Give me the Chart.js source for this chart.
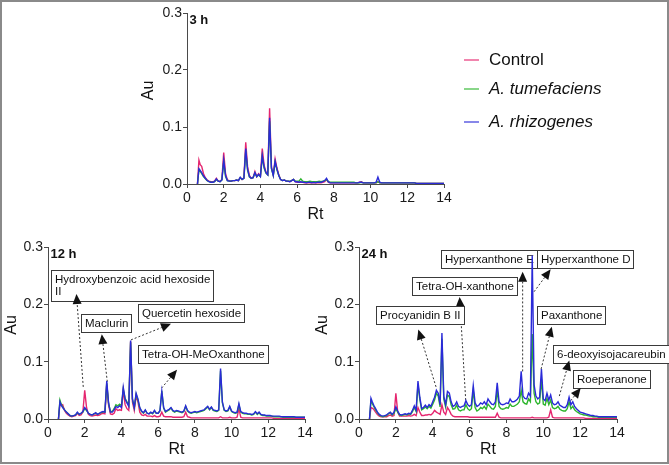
<!DOCTYPE html>
<html>
<head>
<meta charset="utf-8">
<script src="https://cdn.jsdelivr.net/npm/chart.js@4.4.1/dist/chart.umd.min.js"></script>
<style>
  html, body { margin: 0; padding: 0; background: #fff; overflow: hidden; }
  #frame { position: absolute; left: 0; top: 0; width: 665px; height: 460px; border: 2px solid #8a8a8a; }
  canvas { position: absolute; left: 0; top: 0; }
</style>
</head>
<body>
<div id="frame"></div>
<canvas id="c3" width="669" height="465"></canvas>
<canvas id="c12" width="669" height="465"></canvas>
<canvas id="c24" width="669" height="465"></canvas>
<script>
// retention time grid (min)
const rt = [
  0.57, 0.65, 0.72, 0.8, 0.9,
  1.0, 1.1, 1.2, 1.3, 1.4, 1.5, 1.6, 1.7, 1.8, 1.9,
  2.0, 2.1, 2.2, 2.3, 2.4, 2.5, 2.6, 2.7, 2.8, 2.9,
  3.0, 3.1, 3.2, 3.3, 3.4, 3.5, 3.6, 3.7, 3.8, 3.9,
  4.0, 4.1, 4.2, 4.3, 4.4, 4.5, 4.6, 4.7, 4.8, 4.9,
  5.0, 5.1, 5.2, 5.3, 5.4, 5.5, 5.6, 5.7, 5.8, 5.9,
  6.0, 6.1, 6.2, 6.3, 6.4, 6.5, 6.6, 6.7, 6.8, 6.9,
  7.0, 7.1, 7.2, 7.3, 7.4, 7.5, 7.6, 7.7, 7.8, 7.9,
  8.0, 8.1, 8.2, 8.3, 8.4, 8.5, 8.6, 8.7, 8.8, 8.9,
  9.0, 9.1, 9.2, 9.3, 9.4, 9.5, 9.6, 9.7, 9.8, 9.9,
  10.0, 10.1, 10.2, 10.3, 10.4, 10.5, 10.6, 10.7, 10.8, 10.9,
  11.0, 11.1, 11.2, 11.3, 11.4, 11.5, 11.6, 11.7, 11.8, 11.9,
  12.0, 12.1, 12.2, 12.3, 12.4, 12.5, 12.6, 12.7, 12.8, 12.9,
  13.0, 13.1, 13.2, 13.3, 13.4, 13.5, 13.6, 13.7, 13.8, 13.9,
  14.0
];

const seriesNames = ["Control", "A. tumefaciens", "A. rhizogenes"];
const yTicks = [0, 0.1, 0.2, 0.3];
const xTicks = [0, 2, 4, 6, 8, 10, 12, 14];

// ---- 3 h ----
const control3 = [
  0, 0.042, 0.034, 0.031, 0.018,
  0.011, 0.007, 0.005, 0.004, 0.004, 0.005, 0.010, 0.005, 0.005, 0.008,
  0.055, 0.018, 0.007, 0.006, 0.005, 0.006, 0.006, 0.007, 0.006, 0.011,
  0.008, 0.011, 0.073, 0.030, 0.015, 0.010, 0.011, 0.022, 0.013, 0.018,
  0.014, 0.062, 0.033, 0.021, 0.017, 0.133, 0.030, 0.016, 0.044, 0.028,
  0.016, 0.008, 0.006, 0.007, 0.005, 0.005, 0.004, 0.006, 0.008, 0.004,
  0.003, 0.003, 0.003, 0.003, 0.002, 0.002, 0.002, 0.002, 0.002, 0.002,
  0.002, 0.002, 0.002, 0.002, 0.003, 0.004, 0.008, 0.003, 0.002, 0.002,
  0.002, 0.002, 0.002, 0.002, 0.002, 0.002, 0.002, 0.002, 0.002, 0.002,
  0.002, 0.002, 0.002, 0.002, 0.003, 0.004, 0.002, 0.002, 0.002, 0.002,
  0.002, 0.002, 0.002, 0.002, 0.004, 0.002, 0.002, 0.002, 0.002, 0.002,
  0.002, 0.002, 0.002, 0.002, 0.002, 0.002, 0.002, 0.002, 0.002, 0.002,
  0.002, 0.002, 0.002, 0.002, 0.002, 0.001, 0.001, 0.001, 0.001, 0.001,
  0.001, 0.001, 0.001, 0.001, 0.001, 0.001, 0.001, 0.001, 0.001, 0.001,
  0.001
];
const tume3 = [
  0, 0.025, 0.022, 0.018, 0.013,
  0.009, 0.006, 0.004, 0.003, 0.003, 0.004, 0.008, 0.005, 0.004, 0.007,
  0.038, 0.013, 0.006, 0.005, 0.005, 0.006, 0.006, 0.007, 0.006, 0.011,
  0.008, 0.010, 0.058, 0.024, 0.012, 0.010, 0.011, 0.019, 0.013, 0.016,
  0.013, 0.047, 0.028, 0.019, 0.016, 0.110, 0.027, 0.015, 0.038, 0.025,
  0.015, 0.008, 0.006, 0.007, 0.005, 0.005, 0.005, 0.006, 0.008, 0.005,
  0.005, 0.005, 0.009, 0.005, 0.004, 0.004, 0.004, 0.005, 0.004, 0.004,
  0.004, 0.004, 0.005, 0.004, 0.005, 0.006, 0.008, 0.004, 0.003, 0.003,
  0.003, 0.003, 0.003, 0.003, 0.003, 0.003, 0.003, 0.003, 0.003, 0.003,
  0.003, 0.003, 0.002, 0.002, 0.002, 0.003, 0.002, 0.002, 0.002, 0.002,
  0.002, 0.002, 0.002, 0.002, 0.004, 0.002, 0.002, 0.002, 0.002, 0.002,
  0.002, 0.002, 0.002, 0.002, 0.002, 0.002, 0.002, 0.002, 0.002, 0.002,
  0.002, 0.002, 0.002, 0.002, 0.002, 0.001, 0.001, 0.001, 0.001, 0.001,
  0.001, 0.001, 0.001, 0.001, 0.001, 0.001, 0.001, 0.001, 0.001, 0.001,
  0.001
];
const rhizo3 = [
  0, 0.027, 0.024, 0.020, 0.014,
  0.010, 0.006, 0.004, 0.003, 0.003, 0.004, 0.009, 0.005, 0.004, 0.007,
  0.042, 0.015, 0.006, 0.005, 0.005, 0.006, 0.006, 0.007, 0.006, 0.012,
  0.008, 0.010, 0.062, 0.026, 0.013, 0.010, 0.011, 0.020, 0.013, 0.017,
  0.013, 0.050, 0.030, 0.020, 0.016, 0.116, 0.028, 0.015, 0.040, 0.026,
  0.015, 0.008, 0.006, 0.007, 0.005, 0.005, 0.004, 0.006, 0.008, 0.004,
  0.004, 0.003, 0.004, 0.003, 0.003, 0.002, 0.003, 0.003, 0.002, 0.003,
  0.002, 0.003, 0.003, 0.003, 0.004, 0.006, 0.010, 0.004, 0.002, 0.002,
  0.002, 0.002, 0.002, 0.002, 0.002, 0.002, 0.002, 0.002, 0.002, 0.002,
  0.002, 0.002, 0.002, 0.002, 0.003, 0.003, 0.002, 0.002, 0.002, 0.002,
  0.002, 0.002, 0.002, 0.003, 0.012, 0.003, 0.002, 0.002, 0.002, 0.002,
  0.002, 0.002, 0.002, 0.002, 0.002, 0.002, 0.002, 0.002, 0.002, 0.002,
  0.002, 0.002, 0.002, 0.002, 0.002, 0.001, 0.001, 0.001, 0.001, 0.001,
  0.001, 0.001, 0.001, 0.001, 0.001, 0.001, 0.001, 0.001, 0.001, 0.001,
  0.001
];

// ---- 12 h ----
const control12 = [
  0, 0.027, 0.024, 0.025, 0.015,
  0.010, 0.007, 0.005, 0.004, 0.005, 0.006, 0.010, 0.006, 0.007, 0.012,
  0.050, 0.020, 0.008, 0.006, 0.005, 0.006, 0.007, 0.006, 0.007, 0.009,
  0.010, 0.009, 0.060, 0.024, 0.009, 0.008, 0.010, 0.018, 0.015, 0.016,
  0.015, 0.050, 0.025, 0.018, 0.015, 0.135, 0.030, 0.015, 0.040, 0.030,
  0.012, 0.007, 0.006, 0.008, 0.005, 0.005, 0.005, 0.004, 0.006, 0.004,
  0.004, 0.005, 0.012, 0.005, 0.004, 0.004, 0.004, 0.004, 0.003, 0.003,
  0.003, 0.003, 0.003, 0.003, 0.004, 0.012, 0.004, 0.003, 0.002, 0.002,
  0.002, 0.002, 0.002, 0.002, 0.002, 0.002, 0.002, 0.002, 0.002, 0.002,
  0.002, 0.002, 0.002, 0.002, 0.004, 0.002, 0.002, 0.002, 0.002, 0.003,
  0.002, 0.002, 0.002, 0.003, 0.018, 0.003, 0.002, 0.002, 0.002, 0.002,
  0.002, 0.002, 0.002, 0.002, 0.002, 0.002, 0.002, 0.002, 0.002, 0.002,
  0.002, 0.002, 0.002, 0.001, 0.001, 0.001, 0.001, 0.001, 0.001, 0.001,
  0.001, 0.001, 0.001, 0.001, 0.001, 0.001, 0.001, 0.001, 0.001, 0.001,
  0.001
];
const tume12 = [
  0, 0.033, 0.026, 0.021, 0.016,
  0.012, 0.009, 0.006, 0.005, 0.006, 0.007, 0.011, 0.008, 0.010, 0.012,
  0.018, 0.015, 0.010, 0.008, 0.007, 0.009, 0.010, 0.008, 0.010, 0.011,
  0.012, 0.012, 0.063, 0.027, 0.013, 0.013, 0.018, 0.025, 0.023, 0.026,
  0.023, 0.052, 0.036, 0.030, 0.024, 0.134, 0.034, 0.020, 0.043, 0.033,
  0.019, 0.013, 0.010, 0.015, 0.010, 0.009, 0.011, 0.009, 0.014, 0.010,
  0.010, 0.014, 0.049, 0.019, 0.012, 0.014, 0.016, 0.019, 0.014, 0.012,
  0.014, 0.013, 0.012, 0.011, 0.013, 0.022, 0.014, 0.011, 0.010, 0.011,
  0.012, 0.011, 0.012, 0.013, 0.014, 0.015, 0.018, 0.021, 0.016, 0.020,
  0.015, 0.014, 0.013, 0.015, 0.084, 0.028, 0.015, 0.013, 0.014, 0.021,
  0.013, 0.011, 0.010, 0.011, 0.025, 0.012, 0.010, 0.009, 0.009, 0.008,
  0.008, 0.007, 0.008, 0.012, 0.008, 0.011, 0.007, 0.006, 0.006, 0.005,
  0.005, 0.005, 0.005, 0.004, 0.004, 0.004, 0.004, 0.004, 0.003, 0.003,
  0.003, 0.003, 0.003, 0.003, 0.003, 0.003, 0.003, 0.003, 0.003, 0.003,
  0.003
];
const rhizo12 = [
  0, 0.030, 0.024, 0.020, 0.016,
  0.012, 0.009, 0.006, 0.005, 0.006, 0.007, 0.012, 0.008, 0.010, 0.013,
  0.020, 0.016, 0.010, 0.008, 0.007, 0.009, 0.011, 0.008, 0.010, 0.012,
  0.013, 0.012, 0.066, 0.028, 0.012, 0.012, 0.016, 0.022, 0.020, 0.023,
  0.020, 0.055, 0.035, 0.028, 0.022, 0.137, 0.035, 0.020, 0.045, 0.035,
  0.020, 0.014, 0.011, 0.016, 0.010, 0.009, 0.012, 0.010, 0.015, 0.010,
  0.010, 0.015, 0.048, 0.020, 0.013, 0.015, 0.017, 0.020, 0.015, 0.013,
  0.015, 0.014, 0.013, 0.012, 0.014, 0.023, 0.015, 0.012, 0.011, 0.012,
  0.013, 0.012, 0.013, 0.014, 0.015, 0.016, 0.019, 0.022, 0.017, 0.021,
  0.016, 0.015, 0.014, 0.016, 0.088, 0.030, 0.016, 0.014, 0.015, 0.022,
  0.014, 0.012, 0.011, 0.012, 0.027, 0.013, 0.011, 0.010, 0.010, 0.009,
  0.009, 0.008, 0.009, 0.013, 0.009, 0.012, 0.008, 0.007, 0.007, 0.006,
  0.006, 0.006, 0.005, 0.005, 0.005, 0.005, 0.005, 0.004, 0.004, 0.004,
  0.004, 0.004, 0.004, 0.004, 0.004, 0.003, 0.003, 0.003, 0.003, 0.003,
  0.003
];

// ---- 24 h ----
const control24 = [
  0, 0.020, 0.019, 0.017, 0.012,
  0.008, 0.005, 0.004, 0.004, 0.004, 0.004, 0.006, 0.007, 0.005, 0.006,
  0.045, 0.012, 0.005, 0.005, 0.005, 0.005, 0.005, 0.006, 0.005, 0.006,
  0.008, 0.006, 0.020, 0.012, 0.006, 0.006, 0.007, 0.007, 0.008, 0.007,
  0.010, 0.015, 0.012, 0.010, 0.008, 0.025, 0.012, 0.008, 0.020, 0.015,
  0.008, 0.005, 0.004, 0.004, 0.004, 0.004, 0.004, 0.004, 0.004, 0.004,
  0.003, 0.003, 0.003, 0.003, 0.003, 0.003, 0.003, 0.003, 0.003, 0.003,
  0.003, 0.003, 0.003, 0.003, 0.003, 0.010, 0.003, 0.002, 0.002, 0.002,
  0.002, 0.002, 0.002, 0.002, 0.002, 0.002, 0.002, 0.002, 0.002, 0.002,
  0.002, 0.002, 0.002, 0.002, 0.003, 0.002, 0.002, 0.002, 0.002, 0.002,
  0.002, 0.002, 0.002, 0.003, 0.016, 0.003, 0.002, 0.002, 0.002, 0.002,
  0.002, 0.002, 0.002, 0.002, 0.002, 0.002, 0.002, 0.002, 0.002, 0.002,
  0.002, 0.002, 0.002, 0.001, 0.001, 0.001, 0.001, 0.001, 0.001, 0.001,
  0.001, 0.001, 0.001, 0.001, 0.001, 0.001, 0.001, 0.001, 0.001, 0.001,
  0.001
];
const tume24 = [
  0, 0.032, 0.027, 0.022, 0.016,
  0.011, 0.007, 0.005, 0.004, 0.005, 0.006, 0.009, 0.011, 0.007, 0.010,
  0.018, 0.012, 0.007, 0.006, 0.007, 0.008, 0.007, 0.009, 0.008, 0.013,
  0.020, 0.013, 0.060, 0.034, 0.016, 0.018, 0.021, 0.018, 0.022, 0.019,
  0.026, 0.033, 0.045, 0.040, 0.021, 0.140, 0.035, 0.021, 0.042, 0.039,
  0.025, 0.017, 0.018, 0.024, 0.016, 0.014, 0.016, 0.016, 0.025, 0.018,
  0.015, 0.018, 0.050, 0.020, 0.014, 0.016, 0.020, 0.018, 0.022, 0.017,
  0.026, 0.022, 0.018, 0.017, 0.022, 0.050, 0.022, 0.018, 0.017, 0.018,
  0.020, 0.019, 0.026, 0.022, 0.022, 0.024, 0.026, 0.030, 0.050, 0.030,
  0.027, 0.026, 0.035, 0.030, 0.148, 0.045, 0.030, 0.026, 0.028, 0.070,
  0.026, 0.024, 0.036, 0.025, 0.033, 0.020, 0.018, 0.019, 0.022, 0.017,
  0.015, 0.014, 0.014, 0.018, 0.030, 0.018, 0.022, 0.016, 0.013, 0.011,
  0.009, 0.008, 0.007, 0.007, 0.006, 0.005, 0.005, 0.004, 0.004, 0.004,
  0.003, 0.003, 0.003, 0.003, 0.003, 0.003, 0.003, 0.003, 0.003, 0.003,
  0.003
];
const rhizo24 = [
  0, 0.036, 0.030, 0.024, 0.018,
  0.012, 0.008, 0.006, 0.005, 0.006, 0.007, 0.010, 0.012, 0.008, 0.012,
  0.021, 0.014, 0.008, 0.007, 0.008, 0.009, 0.008, 0.010, 0.009, 0.015,
  0.023, 0.015, 0.066, 0.038, 0.018, 0.020, 0.024, 0.020, 0.025, 0.022,
  0.030, 0.038, 0.050, 0.045, 0.025, 0.150, 0.040, 0.025, 0.048, 0.045,
  0.030, 0.022, 0.024, 0.030, 0.022, 0.020, 0.022, 0.023, 0.032, 0.025,
  0.022, 0.025, 0.058, 0.028, 0.022, 0.024, 0.028, 0.026, 0.030, 0.025,
  0.035, 0.030, 0.026, 0.025, 0.030, 0.063, 0.030, 0.026, 0.025, 0.026,
  0.028, 0.027, 0.035, 0.030, 0.030, 0.032, 0.035, 0.040, 0.083, 0.040,
  0.036, 0.035, 0.045, 0.040, 0.285, 0.060, 0.040, 0.035, 0.038, 0.087,
  0.035, 0.032, 0.045, 0.033, 0.042, 0.028, 0.025, 0.026, 0.030, 0.024,
  0.022, 0.020, 0.020, 0.025, 0.038, 0.025, 0.030, 0.022, 0.018, 0.015,
  0.012, 0.011, 0.010, 0.009, 0.008, 0.007, 0.006, 0.006, 0.005, 0.005,
  0.004, 0.004, 0.004, 0.004, 0.004, 0.004, 0.004, 0.004, 0.004, 0.004,
  0.004
];

// compound labels: box corner, arrow start (on peak) and arrow tip, in (Rt, Au)
const notes12 = [
  { text: ["Hydroxybenzoic acid hexoside", "II"], box: [0.15, 0.26], from: [1.92, 0.056], to: [1.55, 0.218] },
  { text: ["Maclurin"], box: [1.8, 0.184], from: [3.23, 0.065], to: [2.93, 0.148] },
  { text: ["Quercetin hexoside"], box: [4.92, 0.2], from: [4.52, 0.138], to: [6.7, 0.166] },
  { text: ["Tetra-OH-MeOxanthone"], box: [4.92, 0.129], from: [6.19, 0.054], to: [7.03, 0.086] }
];
const notes24 = [
  { text: ["Hyperxanthone E"], box: [4.45, 0.295], from: [8.88, 0.083], to: [8.88, 0.257] },
  { text: ["Hyperxanthone D"], box: [9.67, 0.295], from: [9.5, 0.222], to: [10.4, 0.261] },
  { text: ["Tetra-OH-xanthone"], box: [2.86, 0.248], from: [5.79, 0.033], to: [5.46, 0.213] },
  { text: ["Procyanidin B II"], box: [0.9, 0.197], from: [4.18, 0.056], to: [3.22, 0.156] },
  { text: ["Paxanthone"], box: [9.67, 0.197], from: [9.88, 0.087], to: [10.46, 0.161] },
  { text: ["6-deoxyisojacareubin"], box: [10.54, 0.129], from: [10.87, 0.04], to: [11.41, 0.102] },
  { text: ["Roeperanone"], box: [11.63, 0.0855], from: [11.49, 0.032], to: [12.03, 0.054] }
];

const FONT = "'Liberation Sans', Arial, Helvetica, sans-serif";
const colors = ["#e5266f", "#2db52d", "#2a2ad8"];
const AXIS = "#4a4a4a";
const YW = 40, XH = 40; // forced axis box sizes

function toPoints(vals) {
  if (vals.length !== rt.length) throw new Error("length mismatch " + vals.length);
  return rt.map((x, i) => ({ x: x, y: vals[i] }));
}

function drawNote(ctx, xs, ys, n) {
  const px = v => xs.getPixelForValue(v), py = v => ys.getPixelForValue(v);
  // box
  ctx.font = "11.5px " + FONT;
  const w = Math.max(...n.text.map(t => ctx.measureText(t).width)) + 7;
  const h = n.text.length === 1 ? 18 : 31;
  const bx = Math.round(px(n.box[0])) + 0.5, by = Math.round(py(n.box[1])) + 0.5;
  ctx.fillStyle = "#fff";
  ctx.fillRect(bx, by, w, h);
  ctx.strokeStyle = "#3a3a3a";
  ctx.lineWidth = 1;
  ctx.strokeRect(bx, by, Math.round(w), h);
  ctx.fillStyle = "#111";
  ctx.textAlign = "left";
  ctx.textBaseline = "middle";
  n.text.forEach((t, i) => ctx.fillText(t, bx + 3.5, by + 9.5 + i * 11.7));

  // dashed connector + arrow head
  const fx = px(n.from[0]), fy = py(n.from[1]);
  const tx = px(n.to[0]), ty = py(n.to[1]);
  const a = Math.atan2(ty - fy, tx - fx);
  const len = 10, half = 4.5;
  const hx = tx - len * Math.cos(a), hy = ty - len * Math.sin(a);
  ctx.strokeStyle = "#333";
  ctx.setLineDash([2, 2]);
  ctx.beginPath();
  ctx.moveTo(fx, fy);
  ctx.lineTo(hx, hy);
  ctx.stroke();
  ctx.setLineDash([]);
  ctx.fillStyle = "#111";
  ctx.beginPath();
  ctx.moveTo(tx, ty);
  ctx.lineTo(hx + half * Math.sin(a), hy - half * Math.cos(a));
  ctx.lineTo(hx - half * Math.sin(a), hy + half * Math.cos(a));
  ctx.closePath();
  ctx.fill();
}

const panelPlugin = {
  id: "panel",
  beforeDatasetsDraw(chart, args, opts) {
    const ctx = chart.ctx;
    ctx.save();
    (opts.notes || []).forEach(n => drawNote(ctx, chart.scales.x, chart.scales.y, n));
    ctx.restore();
  },
  afterDraw(chart, args, opts) {
    const ctx = chart.ctx, area = chart.chartArea;
    ctx.save();
    // panel title
    ctx.fillStyle = "#111";
    ctx.font = "bold 13px " + FONT;
    ctx.textAlign = "left";
    ctx.textBaseline = "alphabetic";
    ctx.fillText(opts.label, area.left + 2.5, area.top + 11);
    // y axis title
    ctx.font = "16px " + FONT;
    ctx.textAlign = "center";
    ctx.textBaseline = "middle";
    ctx.translate(opts.auX, (area.top + area.bottom) / 2 - 8);
    ctx.rotate(-Math.PI / 2);
    ctx.fillText("Au", 0, 0);
    ctx.restore();

    if (opts.legend) {
      ctx.save();
      ctx.textAlign = "left";
      ctx.textBaseline = "middle";
      chart.data.datasets.forEach((ds, i) => {
        const y = opts.legend.rows[i];
        ctx.strokeStyle = ds.borderColor;
        ctx.globalAlpha = 0.75;
        ctx.lineWidth = 1.5;
        ctx.beginPath();
        ctx.moveTo(opts.legend.x, y);
        ctx.lineTo(opts.legend.x + 15, y);
        ctx.stroke();
        ctx.globalAlpha = 1;
        ctx.fillStyle = "#111";
        ctx.font = (i > 0 ? "italic " : "") + "17px " + FONT;
        ctx.fillText(ds.label, opts.legend.x + 25, y);
      });
      ctx.restore();
    }
  }
};

function makePanel(id, box, label, series, notes, legend) {
  const datasets = series.map((vals, i) => ({
    label: seriesNames[i],
    data: toPoints(vals),
    borderColor: colors[i],
    borderWidth: 1.4,
    pointRadius: 0,
    tension: 0,
    order: 2 - i
  }));
  return new Chart(document.getElementById(id), {
    type: "line",
    data: { datasets },
    options: {
      responsive: false,
      animation: false,
      normalized: true,
      layout: {
        padding: { left: box.left - YW, right: 669 - box.right, top: box.top, bottom: 465 - box.bottom - XH }
      },
      plugins: {
        legend: { display: false },
        tooltip: { enabled: false },
        panel: { label, notes, legend, auX: box.auX }
      },
      scales: {
        x: {
          type: "linear",
          min: 0,
          max: 14,
          afterFit: s => { s.height = XH; },
          afterBuildTicks: s => { s.ticks = xTicks.map(v => ({ value: v })); },
          ticks: { color: "#1a1a1a", font: { family: FONT, size: 14 }, padding: 2, maxRotation: 0 },
          grid: { drawOnChartArea: false, tickLength: 4, color: AXIS },
          border: { color: AXIS, width: 1 },
          title: { display: true, text: "Rt", color: "#111", font: { family: FONT, size: 16 }, padding: 0 }
        },
        y: {
          min: 0,
          max: 0.3,
          afterFit: s => { s.width = YW; },
          afterBuildTicks: s => { s.ticks = yTicks.map(v => ({ value: v })); },
          ticks: { color: "#1a1a1a", font: { family: FONT, size: 14 }, padding: 1, callback: v => v.toFixed(1) },
          grid: { drawOnChartArea: false, tickLength: 4, color: AXIS },
          border: { color: AXIS, width: 1 }
        }
      }
    },
    plugins: [panelPlugin]
  });
}

makePanel("c3", { left: 187, right: 444, top: 13, bottom: 184, auX: 149 }, "3 h",
  [control3, tume3, rhizo3], [], { x: 464, rows: [60, 89, 122] });
makePanel("c12", { left: 48, right: 305, top: 247, bottom: 419, auX: 12 }, "12 h",
  [control12, tume12, rhizo12], notes12, null);
makePanel("c24", { left: 359, right: 617, top: 247, bottom: 419, auX: 323 }, "24 h",
  [control24, tume24, rhizo24], notes24, null);
</script>
</body>
</html>
